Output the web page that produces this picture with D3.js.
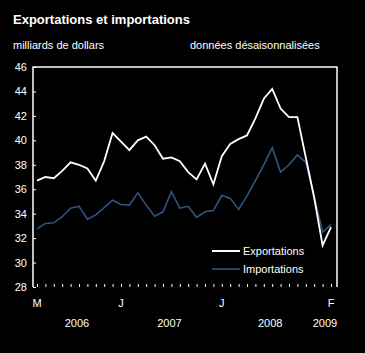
<!DOCTYPE html>
<html>
<head>
<meta charset="utf-8">
<script src="https://cdn.jsdelivr.net/npm/d3@7"></script>
<style>
  body { margin: 0; background: #000; }
  text { font-family: "Liberation Sans", Arial, sans-serif; fill: #fff; }
</style>
</head>
<body>
<div id="chart"></div>
<script>
// monthly values, mars 2006 .. février 2009
const months = [
  "2006-03","2006-04","2006-05","2006-06","2006-07","2006-08","2006-09","2006-10","2006-11","2006-12",
  "2007-01","2007-02","2007-03","2007-04","2007-05","2007-06","2007-07","2007-08","2007-09","2007-10","2007-11","2007-12",
  "2008-01","2008-02","2008-03","2008-04","2008-05","2008-06","2008-07","2008-08","2008-09","2008-10","2008-11","2008-12",
  "2009-01","2009-02"
];
const exportations = [36.7, 37.0, 36.9, 37.5, 38.2, 38.0, 37.7, 36.7, 38.3, 40.6,
  39.9, 39.2, 40.0, 40.3, 39.6, 38.5, 38.6, 38.3, 37.4, 36.8, 38.1, 36.4,
  38.7, 39.7, 40.1, 40.4, 41.8, 43.4, 44.2, 42.6, 41.9, 41.9, 38.6, 35.3,
  31.4, 32.9];
const importations = [32.75, 33.2, 33.25, 33.75, 34.45, 34.6, 33.55, 33.9, 34.5, 35.1,
  34.75, 34.7, 35.7, 34.7, 33.8, 34.15, 35.8, 34.45, 34.6, 33.7, 34.15, 34.25,
  35.5, 35.25, 34.35, 35.45, 36.7, 38.0, 39.4, 37.4, 38.0, 38.8, 38.2, 35.4,
  32.5, 33.1];
const yTicks = [28, 30, 32, 34, 36, 38, 40, 42, 44, 46];
const monthLabels = [{m: "2006-03", t: "M"}, {m: "2007-01", t: "J"}, {m: "2008-01", t: "J"}, {m: "2009-02", t: "F"}];
const years = [{t: "2006", from: "2006-03", to: "2007-01"}, {t: "2007", from: "2007-01", to: "2008-01"},
  {t: "2008", from: "2008-01", to: "2009-01"}, {t: "2009", from: "2009-01", to: "2009-02"}];

const W = 365, H = 353;
const plot = {left: 33, right: 337, top: 67, bottom: 287};

const svg = d3.select("#chart").append("svg")
  .attr("width", W).attr("height", H)
  .style("background", "#000");

const x = d3.scalePoint().domain(months).range([37, 331]);
const y = d3.scaleLinear().domain([28, 46]).range([plot.bottom, plot.top]);

// titles
svg.append("text").attr("x", 13).attr("y", 24)
  .style("font-size", "13px").style("font-weight", "bold")
  .text("Exportations et importations");
svg.append("text").attr("x", 13).attr("y", 49)
  .style("font-size", "11px").text("milliards de dollars");
svg.append("text").attr("x", 190).attr("y", 49)
  .style("font-size", "11px").text("données désaisonnalisées");

// frame: top, left, right
svg.append("path")
  .attr("d", `M${plot.left},${plot.bottom}V${plot.top}H${plot.right}V${plot.bottom}`)
  .attr("fill", "none").attr("stroke", "#fff").attr("stroke-width", 1.5);

// y axis
const yAxis = svg.append("g").attr("transform", `translate(${plot.left},0)`)
  .call(d3.axisRight(y).tickValues(yTicks).tickSize(3).tickFormat(""));
yAxis.select(".domain").remove();
yAxis.selectAll("line").attr("stroke", "#fff");
svg.selectAll(".ylab").data(yTicks).join("text")
  .attr("x", 27).attr("y", d => y(d) + 4)
  .attr("text-anchor", "end").style("font-size", "11px")
  .text(d => d);

// x axis ticks (every month)
const xAxis = svg.append("g").attr("transform", `translate(0,${plot.bottom})`)
  .call(d3.axisTop(x).tickSize(3).tickFormat(""));
xAxis.select(".domain").remove();
xAxis.selectAll("line").attr("stroke", "#fff");

svg.selectAll(".xlab").data(monthLabels).join("text")
  .attr("x", d => x(d.m)).attr("y", 307)
  .attr("text-anchor", "middle").style("font-size", "11px")
  .text(d => d.t);
svg.selectAll(".year").data(years).join("text")
  .attr("x", d => d.t === "2009" ? x(d.to) - 6 : (x(d.from) + x(d.to)) / 2 - 2)
  .attr("y", 327)
  .attr("text-anchor", "middle").style("font-size", "11px")
  .text(d => d.t);

// lines
const line = d3.line().x((d, i) => x(months[i])).y(d => y(d));
svg.append("path").datum(importations)
  .attr("d", line).attr("fill", "none")
  .attr("stroke", "#2f5580").attr("stroke-width", 1.6);
svg.append("path").datum(exportations)
  .attr("d", line).attr("fill", "none")
  .attr("stroke", "#fff").attr("stroke-width", 1.8);

// legend
const legend = [{t: "Exportations", c: "#fff", w: 2}, {t: "Importations", c: "#2f5580", w: 1.6}];
const lg = svg.selectAll(".lg").data(legend).join("g")
  .attr("transform", (d, i) => `translate(212,${251 + i * 18})`);
lg.append("line").attr("x1", 0).attr("x2", 28)
  .attr("stroke", d => d.c).attr("stroke-width", d => d.w);
lg.append("text").attr("x", 31).attr("y", 4)
  .style("font-size", "11px").text(d => d.t);
</script>
</body>
</html>
